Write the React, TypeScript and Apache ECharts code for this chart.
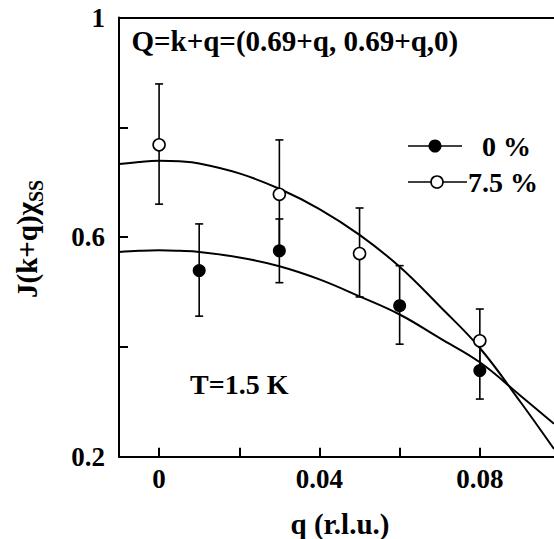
import React, { useEffect, useRef } from "react";
import * as echarts from "echarts";

// ---- data ----
const filledQ = [0.01, 0.03, 0.06, 0.08];
const filledV = [0.539, 0.575, 0.475, 0.357];
const filledLow = [0.456, 0.517, 0.405, 0.305];
const filledHigh = [0.624, 0.633, 0.548, 0.409];

const openQ = [0, 0.03, 0.05, 0.08];
const openV = [0.768, 0.678, 0.570, 0.411];
const openLow = [0.660, 0.580, 0.491, 0.353];
const openHigh = [0.879, 0.777, 0.653, 0.469];

const curveQ = [-0.01, -0.005, 0, 0.005, 0.01, 0.02, 0.03, 0.04, 0.05, 0.06, 0.07, 0.08, 0.09, 0.0985];
const upperCurve = [0.733, 0.737, 0.739, 0.738, 0.734, 0.716, 0.688, 0.651, 0.604, 0.546, 0.474, 0.398, 0.301, 0.214];
const lowerCurve = [0.573, 0.575, 0.576, 0.575, 0.573, 0.563, 0.547, 0.523, 0.492, 0.459, 0.416, 0.372, 0.312, 0.260];

const xTicks = [0, 0.02, 0.04, 0.06, 0.08];
const xLabels = [0, 0.04, 0.08];
const yTicks = [0.4, 0.6, 0.8];
const yLabels = [0.2, 0.6, 1];

const legendNames = ["0 %", "7.5 %"];
const titleText = "Q=k+q=(0.69+q, 0.69+q,0)";
const tempText = "T=1.5 K";
const xName = "q (r.l.u.)";
const yNameMain = "J(k+q)\u03c7";
const yNameSub = "SS";

const FONT = "'Liberation Serif', 'Times New Roman', serif";

function errRender(params: any, api: any) {
  const x = api.value(0);
  const lo = api.coord([x, api.value(1)]);
  const hi = api.coord([x, api.value(2)]);
  const hw = 4;
  const style = { stroke: "#000", lineWidth: 1.6 };
  return {
    type: "group",
    children: [
      { type: "line", shape: { x1: lo[0], y1: lo[1], x2: hi[0], y2: hi[1] }, style },
      { type: "line", shape: { x1: lo[0] - hw, y1: lo[1], x2: lo[0] + hw, y2: lo[1] }, style },
      { type: "line", shape: { x1: hi[0] - hw, y1: hi[1], x2: hi[0] + hw, y2: hi[1] }, style },
    ],
  };
}

export default function App() {
  const ref = useRef<HTMLDivElement>(null);
  useEffect(() => {
    if (!ref.current) return;
    const chart = echarts.init(ref.current, undefined, { renderer: "svg" });
    const axisLine = { show: true, onZero: false, lineStyle: { color: "#000", width: 2 } };
    const labelStyle = {
      fontFamily: FONT,
      fontWeight: "bold" as const,
      fontSize: 27,
      color: "#000",
    };
    chart.setOption({
      animation: false,
      backgroundColor: "#fff",
      grid: { left: 119, right: 0, top: 17.5, bottom: 82.3, containLabel: false },
      xAxis: [
        {
          type: "value",
          min: -0.01,
          max: 0.0985,
          position: "bottom",
          axisLine,
          axisTick: {
            show: true,
            inside: true,
            length: 9,
            customValues: xTicks,
            lineStyle: { color: "#000", width: 2 },
          },
          axisLabel: {
            ...labelStyle,
            margin: 9,
            customValues: xLabels,
            formatter: (v: number) => String(+v.toFixed(2)),
          },
          splitLine: { show: false },
        },
        {
          type: "value",
          min: -0.01,
          max: 0.0985,
          position: "top",
          axisLine,
          axisTick: { show: false },
          axisLabel: { show: false },
          splitLine: { show: false },
        },
      ],
      yAxis: {
        type: "value",
        min: 0.2,
        max: 1,
        position: "left",
        axisLine,
        axisTick: {
          show: true,
          inside: true,
          length: 9,
          customValues: yTicks,
          lineStyle: { color: "#000", width: 2 },
        },
        axisLabel: {
          ...labelStyle,
          margin: 14,
          customValues: yLabels,
          formatter: (v: number) => String(+v.toFixed(1)),
        },
        splitLine: { show: false },
      },
      series: [
        {
          type: "custom",
          renderItem: errRender,
          data: filledQ.map((q, i) => [q, filledLow[i], filledHigh[i]]),
          z: 2,
          silent: true,
        },
        {
          type: "custom",
          renderItem: errRender,
          data: openQ.map((q, i) => [q, openLow[i], openHigh[i]]),
          z: 2,
          silent: true,
        },
        {
          type: "line",
          smooth: 0.4,
          symbol: "none",
          lineStyle: { color: "#000", width: 2 },
          data: curveQ.map((q, i) => [q, upperCurve[i]]),
          z: 3,
        },
        {
          type: "line",
          smooth: 0.4,
          symbol: "none",
          lineStyle: { color: "#000", width: 2 },
          data: curveQ.map((q, i) => [q, lowerCurve[i]]),
          z: 3,
        },
        {
          name: legendNames[0],
          type: "scatter",
          symbol: "circle",
          symbolSize: 13,
          itemStyle: { color: "#000", borderColor: "#000", borderWidth: 0, opacity: 1 },
          data: filledQ.map((q, i) => [q, filledV[i]]),
          z: 5,
        },
        {
          name: legendNames[1],
          type: "scatter",
          symbol: "circle",
          symbolSize: 12,
          itemStyle: { color: "#fff", borderColor: "#000", borderWidth: 1.6, opacity: 1 },
          data: openQ.map((q, i) => [q, openV[i]]),
          z: 6,
        },
      ],
      graphic: [
        {
          type: "text",
          x: 131.5,
          y: 41,
          style: {
            text: titleText,
            fontFamily: FONT,
            fontWeight: "bold",
            fontSize: 29,
            fill: "#000",
            textAlign: "left",
            textVerticalAlign: "middle",
          },
        },
        {
          type: "text",
          x: 190,
          y: 384,
          style: {
            text: tempText,
            fontFamily: FONT,
            fontWeight: "bold",
            fontSize: 28,
            fill: "#000",
            textAlign: "left",
            textVerticalAlign: "middle",
          },
        },
        {
          type: "text",
          x: 340,
          y: 524,
          style: {
            text: xName,
            fontFamily: FONT,
            fontWeight: "bold",
            fontSize: 29,
            fill: "#000",
            textAlign: "center",
            textVerticalAlign: "middle",
          },
        },
        {
          type: "text",
          x: 27,
          y: 298,
          rotation: Math.PI / 2,
          style: {
            text: "{m|" + yNameMain + "}{s|" + yNameSub + "}",
            fontFamily: FONT,
            fontWeight: "bold",
            fill: "#000",
            textAlign: "left",
            textVerticalAlign: "middle",
            rich: {
              m: {
                fontFamily: FONT,
                fontWeight: "bold",
                fontSize: 29,
                lineHeight: 38,
                fill: "#000",
              },
              s: {
                fontFamily: FONT,
                fontWeight: "bold",
                fontSize: 20,
                lineHeight: 20,
                verticalAlign: "bottom",
                fill: "#000",
              },
            },
          },
        },
        // legend
        { type: "line", shape: { x1: 408, y1: 146, x2: 462, y2: 146 }, style: { stroke: "#000", lineWidth: 1.6 } },
        { type: "circle", shape: { cx: 435, cy: 146, r: 6.5 }, style: { fill: "#000" } },
        {
          type: "text",
          x: 482,
          y: 146,
          style: {
            text: legendNames[0],
            fontFamily: FONT,
            fontWeight: "bold",
            fontSize: 28,
            fill: "#000",
            textAlign: "left",
            textVerticalAlign: "middle",
          },
        },
        { type: "line", shape: { x1: 408, y1: 182, x2: 467, y2: 182 }, style: { stroke: "#000", lineWidth: 1.6 } },
        { type: "circle", shape: { cx: 437, cy: 182, r: 6 }, style: { fill: "#fff", stroke: "#000", lineWidth: 1.6 } },
        {
          type: "text",
          x: 468,
          y: 182,
          style: {
            text: legendNames[1],
            fontFamily: FONT,
            fontWeight: "bold",
            fontSize: 28,
            fill: "#000",
            textAlign: "left",
            textVerticalAlign: "middle",
          },
        },
      ],
    });
    return () => chart.dispose();
  }, []);
  return (
    <div
      ref={ref}
      style={{ position: "absolute", left: 0, top: 0, width: 554, height: 539 }}
    />
  );
}
